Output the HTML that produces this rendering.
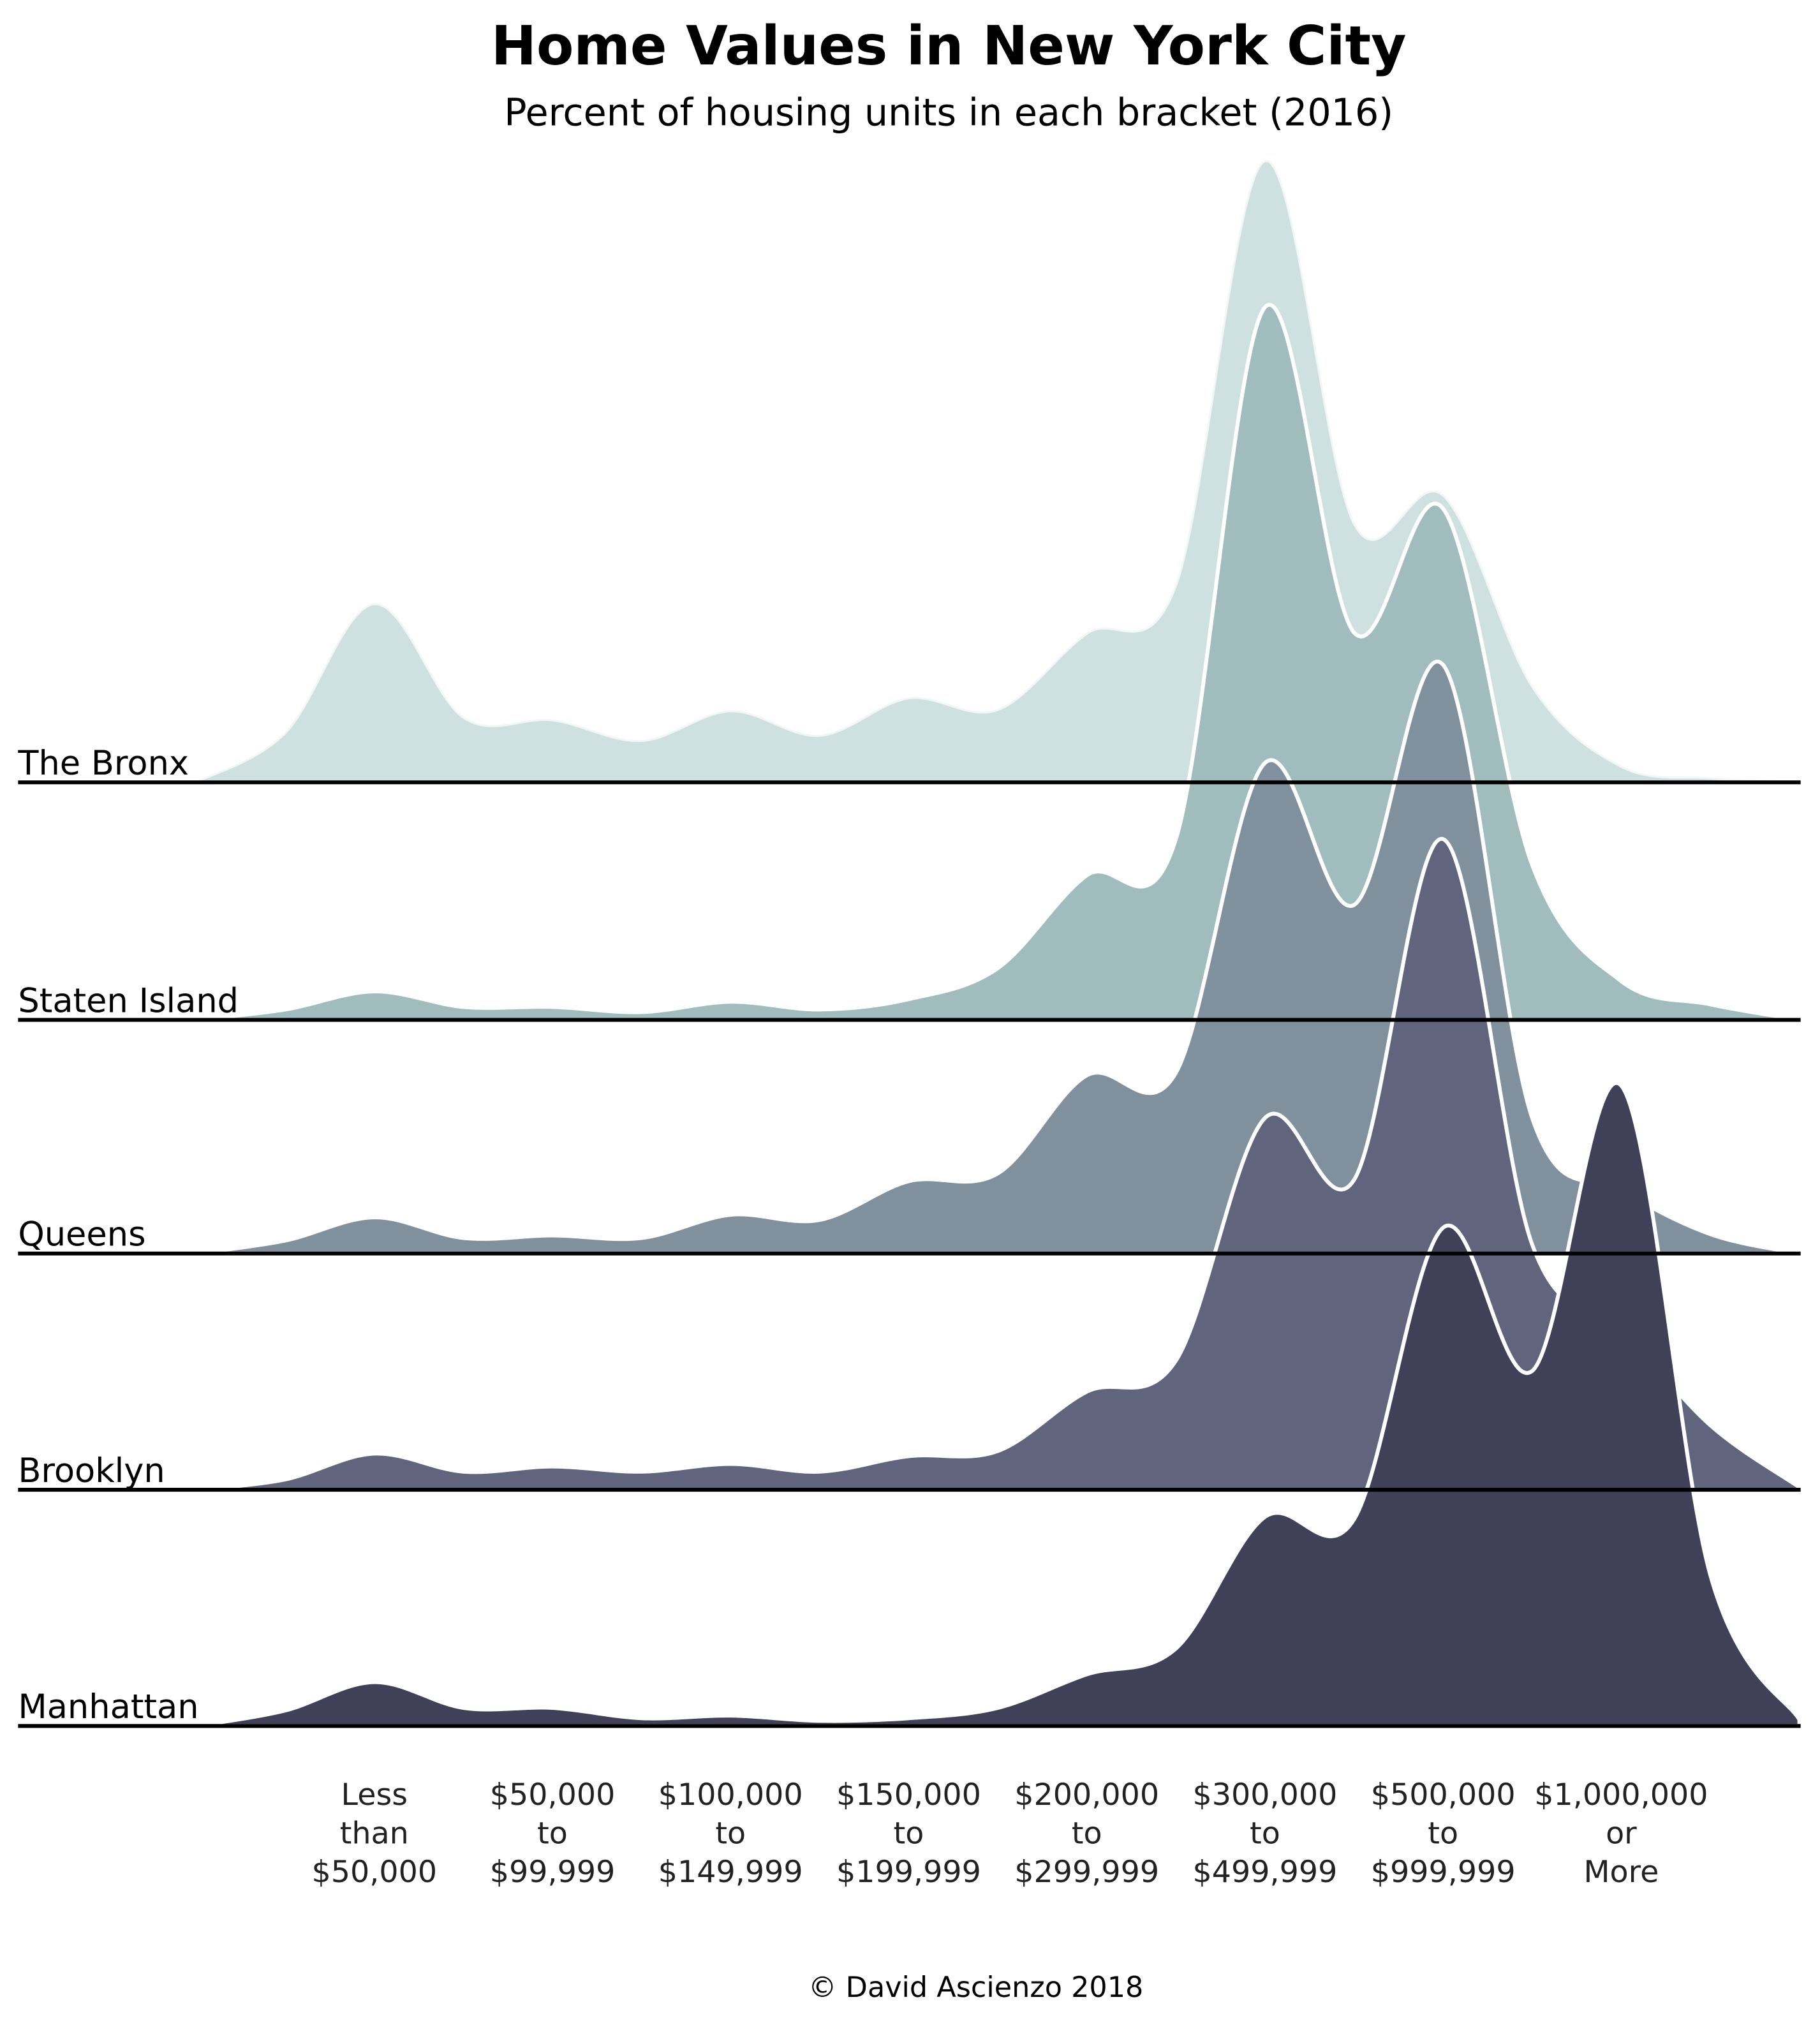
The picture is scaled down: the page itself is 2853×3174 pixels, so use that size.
<!DOCTYPE html>
<html><head><meta charset="utf-8"><style>
html,body{margin:0;padding:0;background:#fff}
svg{display:block}
text{font-family:"DejaVu Sans","Liberation Sans",sans-serif}
</style></head><body>
<svg id="chart" width="2853" height="3174" viewBox="0 0 1410 1568.6" xmlns="http://www.w3.org/2000/svg">
<text x="735" y="50" text-anchor="middle" font-size="42" font-weight="bold" fill="#000">Home Values in New York City</text>
<text x="735" y="97" text-anchor="middle" font-size="29" fill="#000">Percent of housing units in each bracket (2016)</text>
<g id="ridges"></g>
<g id="baselines"></g>
<g id="labels"></g>
<g id="xaxis"></g>
<text x="756" y="1547" text-anchor="middle" font-size="22" fill="#000">© David Ascienzo 2018</text>
</svg>
<script>
const boroughs = ["The Bronx","Staten Island","Queens","Brooklyn","Manhattan"];
const colors = ["#cfe0e0","#a0bcbd","#80909d","#60647d","#404058"];
const categories = [["Less","than","$50,000"],["$50,000","to","$99,999"],["$100,000","to","$149,999"],["$150,000","to","$199,999"],["$200,000","to","$299,999"],["$300,000","to","$499,999"],["$500,000","to","$999,999"],["$1,000,000","or","More"]];
// density values sampled at half-bracket steps (19 points)
const bronx    = [0,3.8,13.8,5.0,4.8,3.2,5.5,3.6,6.5,5.6,11.5,15.2,48.1,20.0,22.2,7.4,1.2,0.3,0];
const staten   = [0,0.8,2.2,1.0,1.0,0.6,1.4,0.8,1.6,4.0,11.2,14.0,55.2,30.0,39.6,12.0,3.0,1.2,0];
const queens   = [0,1.0,2.8,1.2,1.4,1.2,3.0,2.6,5.6,6.2,13.8,14.0,38.0,27.0,45.6,10.5,5.0,1.5,0];
const brooklyn = [0,0.8,2.8,1.4,1.8,1.4,2.0,1.4,2.6,3.0,7.6,10.0,28.8,24.0,50.4,19.0,12.5,5.0,0.2];
const manhattan= [0,1.2,3.4,1.4,1.4,0.6,0.8,0.4,0.6,1.4,4.0,6.0,16.2,16.0,38.6,27.5,49.6,11.7,0.5];
const series = [bronx,staten,queens,brooklyn,manhattan];

const baseY = [606,790,971,1154,1337];
const NS="http://www.w3.org/2000/svg";
const xPos = i => 152 + 69*i;
const yScale = 10;
function path(vals, b){
  const pts = vals.map((v,i)=>[xPos(i), b - v*yScale]);
  let d = "M"+pts[0][0]+","+b+" L"+pts[0][0]+","+pts[0][1];
  for(let i=0;i<pts.length-1;i++){
    const p0=pts[Math.max(i-1,0)],p1=pts[i],p2=pts[i+1],p3=pts[Math.min(i+2,pts.length-1)];
    const c1=[p1[0]+(p2[0]-p0[0])/6,p1[1]+(p2[1]-p0[1])/6];
    const c2=[p2[0]-(p3[0]-p1[0])/6,p2[1]-(p3[1]-p1[1])/6];
    d+=` C${c1[0]},${Math.min(c1[1],b)} ${c2[0]},${Math.min(c2[1],b)} ${p2[0]},${p2[1]}`;
  }
  d+=` L${pts[pts.length-1][0]},${b} Z`;
  return d;
}
const gR=document.getElementById("ridges"),gB=document.getElementById("baselines"),gL=document.getElementById("labels"),gX=document.getElementById("xaxis");
series.forEach((vals,k)=>{
  const p=document.createElementNS(NS,"path");
  p.setAttribute("d",path(vals,baseY[k]));
  p.setAttribute("fill",colors[k]);
  p.setAttribute("stroke",k===0?"#f2f6f6":"#fff");
  p.setAttribute("stroke-width",k===0?"1.5":"3");
  
  
  gR.appendChild(p);
  const l=document.createElementNS(NS,"line");
  l.setAttribute("x1",14);l.setAttribute("x2",1395);
  l.setAttribute("y1",baseY[k]);l.setAttribute("y2",baseY[k]);
  l.setAttribute("stroke","#000");l.setAttribute("stroke-width","3");
  
  
  gB.appendChild(l);
  const t=document.createElementNS(NS,"text");
  t.setAttribute("x",14);t.setAttribute("y",baseY[k]-6);
  t.setAttribute("font-size","26");t.textContent=boroughs[k];
  
  
  gL.appendChild(t);
});
categories.forEach((c,i)=>{
  const t=document.createElementNS(NS,"text");
  t.setAttribute("x",290+138*i);t.setAttribute("text-anchor","middle");
  t.setAttribute("font-size","23.5");t.setAttribute("fill","#222");
  
  
  c.forEach((s,j)=>{
    const ts=document.createElementNS(NS,"tspan");
    ts.setAttribute("x",290+138*i);ts.setAttribute("y",1398+30*j);
    ts.textContent=s;t.appendChild(ts);
  });
  gX.appendChild(t);
});
</script>
</body></html>
